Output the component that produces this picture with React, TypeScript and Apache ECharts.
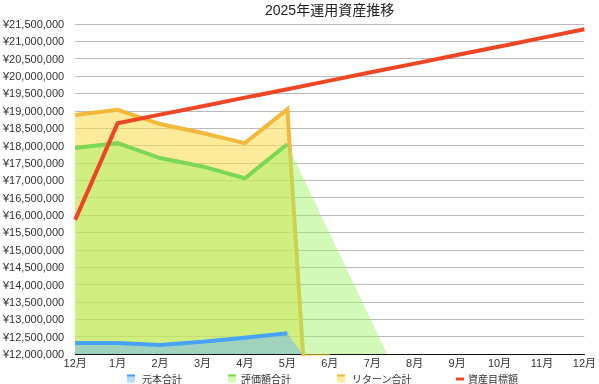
import React, { useEffect, useRef } from "react";
import * as echarts from "echarts";

const titleText = "2025年運用資産推移";
const monthLabels = ["12月", "1月", "2月", "3月", "4月", "5月", "6月", "7月", "8月", "9月", "10月", "11月", "12月"];
const legendNames = ["元本合計", "評価額合計", "リターン合計", "資産目標額"];

// values in yen, index = position on month axis
const principal = [12320000, 12320000, 12260000, 12350000, 12470000, 12600000];
const valuation = [17930000, 18070000, 17640000, 17400000, 17060000, 18040000];
const returns = [18880000, 19030000, 18620000, 18360000, 18070000, 19050000, 0];
const target = [15860000, 18640000, 18890000, 19130000, 19380000, 19620000, 19870000, 20120000, 20360000, 20610000, 20850000, 21100000, 21350000];

// where the filled areas meet the axis floor after 5月 (month position, value)
const principalFillEnd = [5.35, 12000000];
const valuationFillEnd = [7.35, 12000000];

const yMin = 12000000;
const yMax = 21500000;
const yStep = 500000;

const colors = {
  principalLine: "#48a2f5",
  principalFill: "rgba(110,185,250,0.5)",
  principalIcon: "#b7dcfc",
  valuationLine: "#7dd756",
  valuationFill: "rgba(155,242,98,0.45)",
  valuationIcon: "#d2f9b8",
  returnsLine: "#f2b93c",
  returnsFill: "rgba(250,220,80,0.57)",
  returnsIcon: "#fcec9b",
  target: "#ee4524",
};

const FONT = "'Liberation Sans', 'Noto Sans CJK JP', sans-serif";

const pairs = (arr: number[]) => arr.map((v, i) => [i, v]);

export default function App() {
  const ref = useRef<HTMLDivElement>(null);
  useEffect(() => {
    if (!ref.current) return;
    const chart = echarts.init(ref.current, undefined, { renderer: "svg" });

    const legendIconX = [127, 228, 337, 456];
    const legendTextX = [142, 241, 352, 468];
    const legendFill = [colors.principalIcon, colors.valuationIcon, colors.returnsIcon];
    const legendLine = [colors.principalLine, colors.valuationLine, colors.returnsLine];
    const legendGraphics: any[] = [];
    legendNames.forEach((name, i) => {
      if (i < 3) {
        legendGraphics.push({
          type: "rect",
          shape: { x: legendIconX[i], y: 374.5, width: 8, height: 8 },
          style: { fill: legendFill[i] },
        });
        legendGraphics.push({
          type: "rect",
          shape: { x: legendIconX[i], y: 374.5, width: 8, height: 2 },
          style: { fill: legendLine[i] },
        });
      } else {
        legendGraphics.push({
          type: "rect",
          shape: { x: legendIconX[i], y: 377.5, width: 8, height: 3 },
          style: { fill: colors.target },
        });
      }
      legendGraphics.push({
        type: "text",
        x: legendTextX[i],
        y: 379,
        style: {
          text: name,
          fill: "#333",
          fontSize: 10,
          fontFamily: FONT,
          align: "left",
          verticalAlign: "middle",
          textAlign: "left",
          textVerticalAlign: "middle",
        },
      });
    });

    const option: any = {
      animation: false,
      title: {
        text: titleText,
        left: 265,
        top: 3,
        padding: 0,
        textStyle: { fontSize: 14, fontWeight: "normal", color: "#222", fontFamily: FONT },
      },
      grid: { left: 75, right: 13, top: 24, bottom: 30, containLabel: false },
      xAxis: {
        type: "value",
        min: 0,
        max: 12,
        interval: 1,
        axisLine: { show: true, lineStyle: { color: "#111", width: 1 } },
        axisTick: { show: false },
        splitLine: { show: false },
        axisLabel: {
          margin: 3,
          fontSize: 11,
          color: "#333",
          fontFamily: FONT,
          showMinLabel: true,
          showMaxLabel: true,
          formatter: (v: number) => monthLabels[Math.round(v)] ?? "",
        },
      },
      yAxis: {
        type: "value",
        min: yMin,
        max: yMax,
        interval: yStep,
        axisLine: { show: false },
        axisTick: { show: false },
        splitLine: { show: true, lineStyle: { color: "#bbbbbb", width: 1 } },
        axisLabel: {
          margin: 11,
          fontSize: 11,
          color: "#333",
          fontFamily: FONT,
          formatter: (v: number) => "¥" + v.toLocaleString("en-US"),
        },
      },
      graphic: legendGraphics,
      series: [
        {
          name: legendNames[2],
          type: "line",
          z: 1,
          data: pairs(returns),
          symbol: "none",
          lineStyle: { color: colors.returnsLine, width: 4, join: "miter", cap: "butt" },
          areaStyle: { color: colors.returnsFill, origin: "start", opacity: 1 },
        },
        {
          name: legendNames[1] + "fill",
          type: "line",
          z: 2,
          data: [...pairs(valuation), valuationFillEnd],
          symbol: "none",
          lineStyle: { width: 0, opacity: 0 },
          areaStyle: { color: colors.valuationFill, origin: "start", opacity: 1 },
        },
        {
          name: legendNames[1],
          type: "line",
          z: 3,
          data: pairs(valuation),
          symbol: "none",
          lineStyle: { color: colors.valuationLine, width: 4, join: "miter", cap: "butt" },
        },
        {
          name: legendNames[0] + "fill",
          type: "line",
          z: 4,
          data: [...pairs(principal), principalFillEnd],
          symbol: "none",
          lineStyle: { width: 0, opacity: 0 },
          areaStyle: { color: colors.principalFill, origin: "start", opacity: 1 },
        },
        {
          name: legendNames[0],
          type: "line",
          z: 5,
          data: pairs(principal),
          symbol: "none",
          lineStyle: { color: colors.principalLine, width: 4, join: "miter", cap: "butt" },
        },
        {
          name: legendNames[3],
          type: "line",
          z: 6,
          data: pairs(target),
          symbol: "none",
          lineStyle: { color: colors.target, width: 4, join: "miter", cap: "butt" },
        },
      ],
    };
    chart.setOption(option);
    return () => chart.dispose();
  }, []);

  return (
    <div
      ref={ref}
      style={{ position: "fixed", left: 0, top: 0, width: 599, height: 384 }}
    />
  );
}
